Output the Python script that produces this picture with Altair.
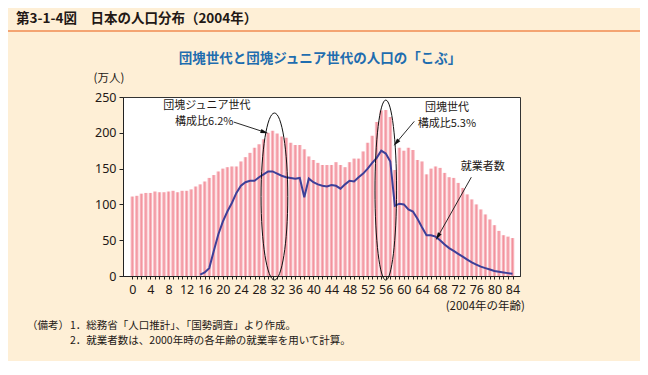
import altair as alt
import pandas as pd
import math

# ---- data ----
ages = list(range(0, 85))
population = [111, 112, 115, 116, 116, 118, 117, 117, 118, 119,
              117, 119, 119, 121, 125, 128, 132, 137, 141, 146,
              150, 152, 153, 153, 160, 166, 172, 179, 184, 191,
              200, 203, 199, 195, 193, 186, 183, 183, 177, 167,
              162, 158, 155, 155, 155, 159, 155, 152, 159, 164,
              164, 174, 186, 196, 215, 231, 232, 222, 148, 179,
              175, 179, 176, 162, 160, 142, 150, 153, 151, 144,
              138, 137, 130, 123, 114, 107, 100, 93, 86, 79,
              71, 63, 57, 55, 53]
work_ages = list(range(15, 85))
workers = [2, 5, 11, 35, 58, 76, 90, 102, 116, 126,
           131, 133, 133, 138, 142, 146, 146, 143, 140, 138,
           137, 136, 137, 110, 136, 131, 128, 126, 125, 127,
           126, 122, 128, 133, 132, 138, 143, 150, 158, 165,
           175, 171, 160, 98, 101, 100, 93, 90, 80, 68,
           57, 57, 55, 50, 44, 39, 35, 31, 27, 23,
           19, 16, 13, 11, 9, 7, 6, 5, 4, 3]
x_ticks = list(range(0, 85, 4))
y_ticks = [0, 50, 100, 150, 200, 250]

title_text = "第3-1-4図　日本の人口分布（2004年）"
subtitle_text = "団塊世代と団塊ジュニア世代の人口の「こぶ」"
y_unit = "(万人)"
x_title = "(2004年の年齢)"
note_head = "（備考）"
note1 = "1．総務省「人口推計」、「国勢調査」より作成。"
note2 = "2．就業者数は、2000年時の各年齢の就業率を用いて計算。"

# annotations (data units)
ann_labels = ["団塊ジュニア世代", "構成比6.2%", "団塊世代", "構成比5.3%", "就業者数"]
ann_age = [16.5, 15.9, 69.5, 69.5, 77.4]
ann_val = [238, 215, 234, 212, 152]

ellipse_age = [31.4, 56.0]
ellipse_val = [111, 120]
ellipse_h = [167, 180]       # px height
ellipse_rx = [0.16, 0.12]    # relative half width

arrow_x = [22.4, 62.3, 74.9]
arrow_y = [215, 216, 138]
arrow_x2 = [29.2, 58.3, 67.5]
arrow_y2 = [201, 186, 55]

pop_df = pd.DataFrame({"age": ages, "pop": population})
work_df = pd.DataFrame({"age": work_ages, "workers": workers})

FONT = "Noto Sans CJK JP"
TXT = "#231815"
W, H = 397, 179

xscale = alt.Scale(domain=[-0.95, 84.55], nice=False, zero=False)
yscale = alt.Scale(domain=[0, 250], nice=False)

xaxis = alt.Axis(values=ages, labelExpr="datum.value % 4 == 0 ? datum.label : ''",
                 title=None, grid=False, tickSize=3, labelPadding=4, labelFontSize=12.5,
                 labelFont="Noto Sans", labelColor=TXT, domainColor="#222", tickColor="#222",
                 labelOverlap=False, labelFlush=False, labelBound=False)
yaxis = alt.Axis(values=y_ticks, title=None, grid=False, tickSize=4, labelPadding=3,
                 labelFontSize=12.5, labelFont="Noto Sans", labelColor=TXT,
                 domainColor="#222", tickColor="#222", labelOverlap=False)

def X(field):
    return alt.X(field, scale=xscale, axis=xaxis)

def Y(field):
    return alt.Y(field, scale=yscale, axis=yaxis)

grad = alt.LinearGradient(
    gradient="linear",
    stops=[alt.GradientStop(color="#FBD3D8", offset=0),
           alt.GradientStop(color="#F2909B", offset=0.5),
           alt.GradientStop(color="#FBD3D8", offset=1)],
    x1=0, x2=1, y1=0, y2=0)

bars = alt.Chart(pop_df).mark_bar(size=3.8, color=grad).encode(
    x=X("age:Q"), y=Y("pop:Q"))

line = alt.Chart(work_df).mark_line(color="#3D3F98", strokeWidth=2).encode(
    x=X("age:Q"), y=Y("workers:Q"))

layers = [bars, line]

for a, v, h, rx in zip(ellipse_age, ellipse_val, ellipse_h, ellipse_rx):
    path = f"M0,-1 A{rx},1 0 1,1 0,1 A{rx},1 0 1,1 0,-1 Z"
    layers.append(
        alt.Chart(pd.DataFrame({"age": [a], "v": [v]})).mark_point(
            shape=path, filled=False, stroke="#111", strokeWidth=1, size=h * h, opacity=1
        ).encode(x=X("age:Q"), y=Y("v:Q"))
    )

px_per_x = W / (84.55 + 0.95)
px_per_y = H / 250
for x1, y1, x2, y2 in zip(arrow_x, arrow_y, arrow_x2, arrow_y2):
    d = pd.DataFrame({"x": [x1], "y": [y1], "x2": [x2], "y2": [y2]})
    layers.append(alt.Chart(d).mark_rule(color="#111", strokeWidth=0.9).encode(
        x=X("x:Q"), y=Y("y:Q"), x2="x2:Q", y2="y2:Q"))
    dx = (x2 - x1) * px_per_x
    dy = -(y2 - y1) * px_per_y
    ang = math.degrees(math.atan2(dx, -dy)) % 360
    layers.append(alt.Chart(d).mark_point(
        shape="M0,-1 L0.55,1 L-0.55,1 Z", filled=True, color="#111", size=60,
        angle=ang, opacity=1).encode(x=X("x2:Q"), y=Y("y2:Q")))

ann_df = pd.DataFrame({"t": ann_labels, "age": ann_age, "v": ann_val})
layers.append(alt.Chart(ann_df).mark_text(font=FONT, fontSize=11, color=TXT).encode(
    x=X("age:Q"), y=Y("v:Q"), text="t:N"))

one = pd.DataFrame({"a": [0]})

def txt(s, x, y, size, align="left", weight="normal", color=TXT):
    return alt.Chart(one).mark_text(text=s, font=FONT, fontSize=size, align=align,
                                    baseline="middle", fontWeight=weight, color=color).encode(
        x=alt.value(x), y=alt.value(y))

layers += [
    alt.Chart(one).mark_rule(color="#F4A472", strokeWidth=2.2).encode(
        x=alt.value(-116), x2=alt.value(517), y=alt.value(-66)),
    txt(title_text, -107, -78, 13.5, weight="bold"),
    txt(subtitle_text, 197, -38, 13.5, align="center", weight="bold", color="#1F6DAF"),
    txt(y_unit, -14, -18, 11.5, align="center"),
    txt(x_title, 402, 210, 11.5, align="right"),
    txt(note_head, -96, 229, 10.5),
    txt(note1, -53, 229, 10.5),
    txt(note2, -53, 244, 10.5),
]

chart = alt.layer(*layers).properties(
    width=W, height=H,
    autosize=alt.AutoSizeParams(type="none"),
    padding={"left": 115, "top": 89, "right": 120, "bottom": 85},
).configure(background="#FEEFD6").configure_view(
    fill="white", stroke="#333", strokeWidth=1)

chart.save("out.html", embed_options={"renderer": "svg", "actions": False})
